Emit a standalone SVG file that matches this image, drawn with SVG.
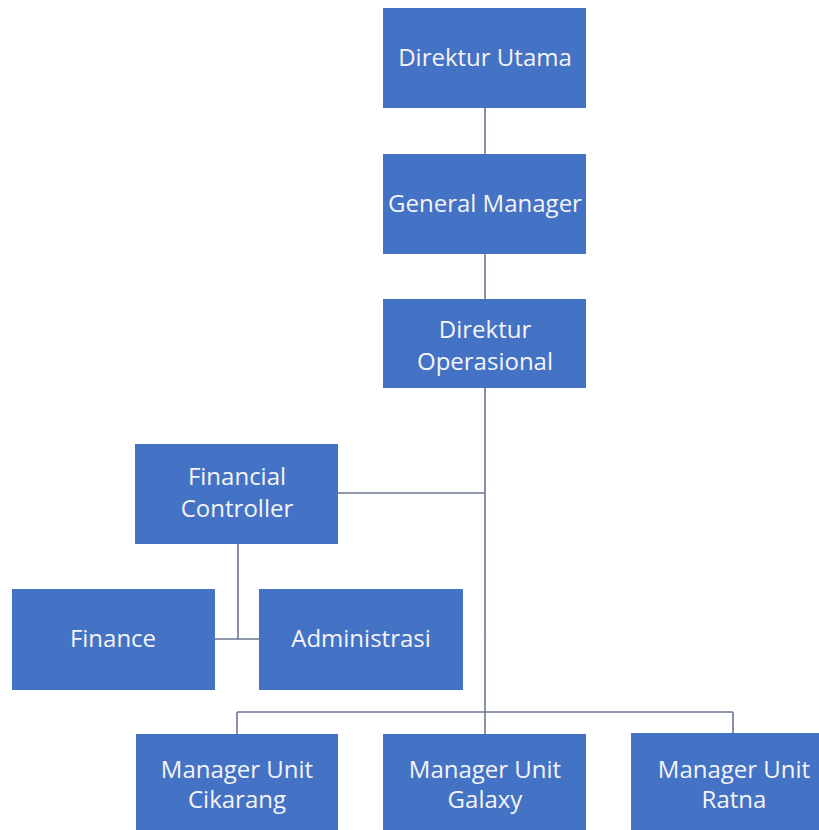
<svg xmlns="http://www.w3.org/2000/svg" width="819" height="830" viewBox="0 0 819 830">
<style>
.box{fill:#4472C4;}
.t{font-family:"Open Sans","Liberation Sans",sans-serif;font-size:24px;fill:#f4f4f8;text-anchor:middle;}
.c{fill:none;stroke:#6b7690;stroke-width:1.6;}
</style>
<rect width="819" height="830" fill="#ffffff"/>
<g id="connectors">
<path class="c" d="M485 108V154M485 254V299M485 388V712M338 493H485M237 712H733M237 712V734M485 712V734M733 712V733M238 544V639M215 639H259"/>
</g>
<g id="direktur-utama"><rect class="box" x="383" y="8" width="203" height="100"/><text class="t" x="485" y="66">Direktur Utama</text></g>
<g id="general-manager"><rect class="box" x="383" y="154" width="203" height="100"/><text class="t" x="485" y="212">General Manager</text></g>
<g id="direktur-operasional"><rect class="box" x="383" y="299" width="203" height="89"/><text class="t" x="485" y="338">Direktur</text><text class="t" x="485" y="370">Operasional</text></g>
<g id="financial-controller"><rect class="box" x="135" y="444" width="203" height="100"/><text class="t" x="237" y="485">Financial</text><text class="t" x="237" y="517">Controller</text></g>
<g id="finance"><rect class="box" x="12" y="589" width="203" height="101"/><text class="t" x="113" y="647">Finance</text></g>
<g id="administrasi"><rect class="box" x="259" y="589" width="204" height="101"/><text class="t" x="361" y="647">Administrasi</text></g>
<g id="mu-cikarang"><rect class="box" x="136" y="734" width="202" height="110"/><text class="t" x="237" y="778">Manager Unit</text><text class="t" x="237" y="808">Cikarang</text></g>
<g id="mu-galaxy"><rect class="box" x="383" y="734" width="203" height="110"/><text class="t" x="485" y="778">Manager Unit</text><text class="t" x="485" y="808">Galaxy</text></g>
<g id="mu-ratna"><rect class="box" x="631" y="733" width="206" height="110"/><text class="t" x="734" y="778">Manager Unit</text><text class="t" x="734" y="808">Ratna</text></g>
</svg>
